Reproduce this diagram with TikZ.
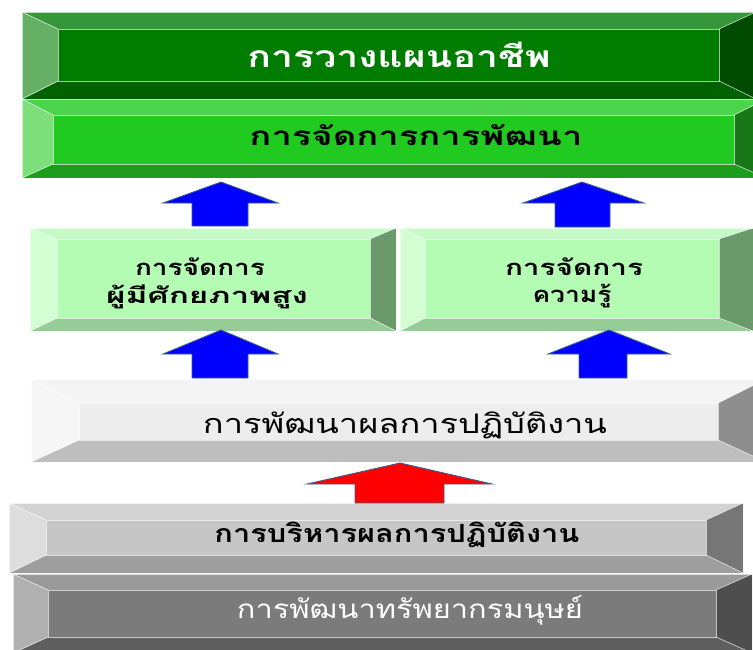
\documentclass[tikz,border=0pt]{standalone}
\usepackage{fontspec}
\usepackage{graphicx}
\newfontfamily\thaifont[Script=Thai]{Loma}
\definecolor{atop}{HTML}{36963A}\definecolor{amid}{HTML}{007D00}\definecolor{alft}{HTML}{66B066}\definecolor{abot}{HTML}{006100}\definecolor{argt}{HTML}{004B00}
\definecolor{btop}{HTML}{4CD44C}\definecolor{bmid}{HTML}{21CA21}\definecolor{blft}{HTML}{7CDF7C}\definecolor{bbot}{HTML}{1C9E1C}\definecolor{brgt}{HTML}{187818}
\definecolor{ctop}{HTML}{C6FAC6}\definecolor{cmid}{HTML}{B4FCB4}\definecolor{clft}{HTML}{D2FFD2}\definecolor{cbot}{HTML}{96CC96}\definecolor{crgt}{HTML}{6A9A6A}
\definecolor{dtop}{HTML}{F4F4F4}\definecolor{dmid}{HTML}{EDEDED}\definecolor{dlft}{HTML}{F6F6F6}\definecolor{dbot}{HTML}{BEBEBE}\definecolor{drgt}{HTML}{8E8E8E}
\definecolor{etop}{HTML}{D2D2D2}\definecolor{emid}{HTML}{C6C6C6}\definecolor{elft}{HTML}{DDDDDD}\definecolor{ebot}{HTML}{9E9E9E}\definecolor{ergt}{HTML}{767676}
\definecolor{ftop}{HTML}{9A9A9A}\definecolor{fmid}{HTML}{7B7B7B}\definecolor{flft}{HTML}{B0B0B0}\definecolor{fbot}{HTML}{5F5F5F}\definecolor{frgt}{HTML}{4E4E4E}
\definecolor{arrowblue}{HTML}{0000FF}\definecolor{arrowred}{HTML}{FF0000}\definecolor{arrowline}{HTML}{3A5E8C}
\newcommand\bevelbox[9]{%
 \fill[#9top] (#1,#2) -- (#3,#2) -- (#7,#6) -- (#5,#6) -- cycle;
 \fill[#9bot] (#1,#4) -- (#3,#4) -- (#7,#8) -- (#5,#8) -- cycle;
 \fill[#9lft] (#1,#2) -- (#5,#6) -- (#5,#8) -- (#1,#4) -- cycle;
 \fill[#9rgt] (#3,#2) -- (#7,#6) -- (#7,#8) -- (#3,#4) -- cycle;
 \fill[#9mid] (#5,#6) rectangle (#7,#8);
 \draw[edge] (#1,#2) rectangle (#3,#4);
 \draw[edge] (#5,#6) rectangle (#7,#8);
 \draw[edge] (#1,#2) -- (#5,#6) (#3,#2) -- (#7,#6) (#1,#4) -- (#5,#8) (#3,#4) -- (#7,#8);
}
\newcommand\fitw[3]{{\fontsize{#2}{#2}\selectfont\resizebox{#1pt}{\height}{#3}}}
% tipx tipy headbase-y headL headR shaftL shaftR bottom style
\newcommand\arr[9]{\filldraw[#9] (#1,#2) -- (#5,#3) -- (#7,#3) -- (#7,#8) -- (#6,#8) -- (#6,#3) -- (#4,#3) -- cycle;}
\begin{document}
\begin{tikzpicture}[x=1pt,y=-1pt,
  edge/.style={draw=white,draw opacity=0.65,line width=0.7pt},
  txt/.style={inner sep=0pt,font=\thaifont,anchor=base},
  barrow/.style={fill=arrowblue,draw=arrowline,line width=0.9pt,line join=miter},
  rarrow/.style={fill=arrowred,draw=arrowline,line width=0.9pt,line join=miter}]
\useasboundingbox (0,0) rectangle (753,649);
\clip (0,0) rectangle (753,649);
% boxes
\bevelbox{22}{12}{756}{99}{58}{29}{719}{81}{a}
\bevelbox{22}{99}{766}{178}{53}{115}{734}{164}{b}
\bevelbox{30}{228}{396}{331}{57}{239}{370}{318}{c}
\bevelbox{400}{228}{753}{331}{425}{239}{719}{318}{c}
\bevelbox{31}{379}{766}{462}{79}{403}{718}{440}{d}
\bevelbox{9}{503}{743}{573}{46}{520}{706}{555}{e}
\bevelbox{13}{574}{752}{653}{48}{590}{716}{637}{f}
% arrows
\arr{221}{182}{203}{163}{278}{192}{248}{226}{barrow}
\arr{582}{182}{203}{523}{644}{555}{610}{227}{barrow}
\arr{221}{330}{354}{163}{278}{192}{248}{378}{barrow}
\arr{609}{330}{354}{548}{670}{579}{627}{378}{barrow}
\arr{400}{463}{484}{307}{492}{355}{444}{503}{rarrow}
% texts
\node[txt,text=white] (t1) at (399,67) {\bfseries\fitw{303}{30}{การวางแผนอาชีพ}};
\node[txt,text=black] (t2) at (416,145) {\bfseries\fitw{333}{26}{การจัดการการพัฒนา}};
\node[txt] (t3a) at (200,275) {\bfseries\fitw{130}{22}{การจัดการ}};
\node[txt] (t3b) at (207,303) {\bfseries\fitw{202}{22}{ผู้มีศักยภาพสูง}};
\node[txt] (t4a) at (574,275) {\bfseries\fitw{138}{22}{การจัดการ}};
\node[txt] (t4b) at (572,302) {\bfseries\fitw{79}{22}{ความรู้}};
\node[txt] (t5) at (405,433) {\fitw{404}{27}{การพัฒนาผลการปฏิบัติงาน}};
\node[txt] (t6) at (397,542) {\bfseries\fitw{365}{25}{การบริหารผลการปฏิบัติงาน}};
\node[txt,text=white] (t7) at (410,618) {\fitw{346}{26}{การพัฒนาทรัพยากรมนุษย์}};
\end{tikzpicture}
\end{document}
